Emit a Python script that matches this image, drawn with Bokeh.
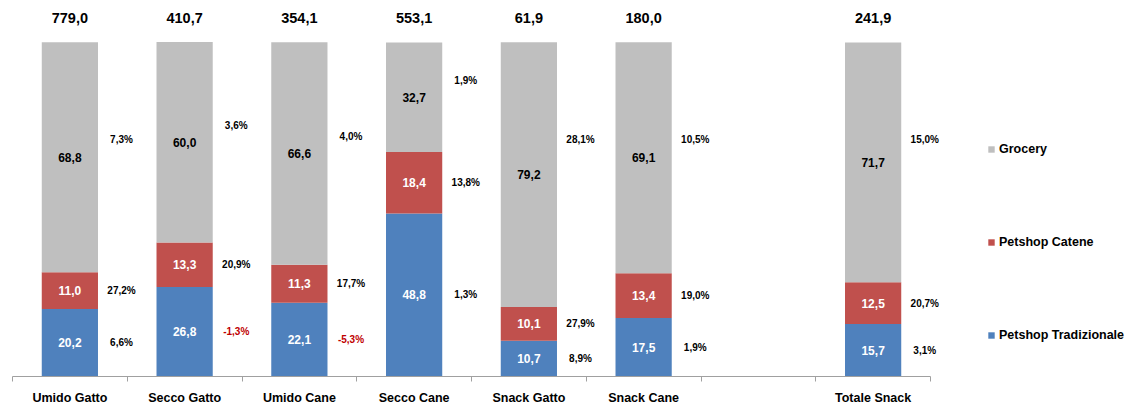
from bokeh.plotting import figure
from bokeh.models import ColumnDataSource, Range1d, FixedTicker, Legend, LegendItem
from bokeh.core.properties import value
from bokeh.embed import file_html
from bokeh.resources import INLINE

# ---- data ----
slots = ["Umido Gatto", "Secco Gatto", "Umido Cane", "Secco Cane", "Snack Gatto", "Snack Cane", "", "Totale Snack"]
categories = ["Umido Gatto", "Secco Gatto", "Umido Cane", "Secco Cane", "Snack Gatto", "Snack Cane", "Totale Snack"]
totals = [779.0, 410.7, 354.1, 553.1, 61.9, 180.0, 241.9]
tradizionale = [20.2, 26.8, 22.1, 48.8, 10.7, 17.5, 15.7]
catene = [11.0, 13.3, 11.3, 18.4, 10.1, 13.4, 12.5]
grocery = [68.8, 60.0, 66.6, 32.7, 79.2, 69.1, 71.7]
growth_trad = [6.6, -1.3, -5.3, 1.3, 8.9, 1.9, 3.1]
growth_cat = [27.2, 20.9, 17.7, 13.8, 27.9, 19.0, 20.7]
growth_groc = [7.3, 3.6, 4.0, 1.9, 28.1, 10.5, 15.0]
series = ["Petshop Tradizionale", "Petshop Catene", "Grocery"]

# ---- styles ----
C_BLUE, C_RED, C_GRAY = "#4f81bd", "#c0504d", "#bfbfbf"
FONT = value("Liberation Sans")

def fmt(v):
    return f"{v:.1f}".replace(".", ",")

x = [slots.index(c) + 0.5 for c in categories]
src = ColumnDataSource(dict(x=x, trad=tradizionale, cat=catene, groc=grocery))

# frame spans the whole width on the right; axis limited to the category slots
x_end = len(slots) * (1126 - 12) / 918.0

p = figure(width=1126, height=407, output_backend="svg", toolbar_location=None,
           x_range=Range1d(0, x_end), y_range=Range1d(0, 112.5),
           min_border_left=12, min_border_right=0, min_border_top=0, min_border_bottom=26)
p.outline_line_color = None
p.xgrid.visible = False
p.ygrid.visible = False
p.yaxis.visible = False
p.background_fill_color = "white"

rs = p.vbar_stack(["trad", "cat", "groc"], x="x", width=0.49, source=src,
                  color=[C_BLUE, C_RED, C_GRAY], line_color=None)

# value labels and growth labels
lx, ly, lt, lc = [], [], [], []
gx, gy, gt, gc = [], [], [], []
for i in range(len(categories)):
    b0 = 0
    vals = [tradizionale[i], catene[i], grocery[i]]
    grs = [growth_trad[i], growth_cat[i], growth_groc[i]]
    cols = ["white", "white", "black"]
    for j in range(3):
        mid = b0 + vals[j] / 2
        lx.append(x[i]); ly.append(mid); lt.append(fmt(vals[j])); lc.append(cols[j])
        gyv = mid if j < 2 else max(71, mid + 5)
        gx.append(x[i] + 0.45); gy.append(gyv); gt.append(fmt(grs[j]) + "%")
        gc.append("#c00000" if grs[j] < 0 else "black")
        b0 += vals[j]

p.text(x=lx, y=ly, text=lt, text_color=lc, text_font=FONT, text_font_style="bold",
       text_font_size="12px", text_align="center", text_baseline="middle")
p.text(x=gx, y=gy, text=gt, text_color=gc, text_font=FONT, text_font_style="bold",
       text_font_size="10px", text_align="center", text_baseline="middle")
p.text(x=x, y=[107.4] * len(x), text=[fmt(t) for t in totals], text_color="black",
       text_font=FONT, text_font_style="bold", text_font_size="14.5px",
       text_align="center", text_baseline="middle")

# axis
ax = p.xaxis[0]
ax.bounds = (0, len(slots))
ax.ticker = FixedTicker(ticks=[i + 0.5 for i in range(len(slots))],
                        minor_ticks=list(range(len(slots) + 1)))
ax.major_label_overrides = {i + 0.5: s for i, s in enumerate(slots)}
ax.major_tick_out = 0
ax.major_tick_in = 0
ax.minor_tick_out = 5
ax.minor_tick_in = 0
ax.minor_tick_line_color = "#a0a0a0"
ax.axis_line_color = "#a0a0a0"
ax.major_label_text_font = "Liberation Sans"
ax.major_label_text_font_style = "bold"
ax.major_label_text_font_size = "12.5px"
ax.major_label_text_color = "black"
ax.major_label_standoff = 9

legend = Legend(items=[LegendItem(label=series[2], renderers=[rs[2]]),
                       LegendItem(label=series[1], renderers=[rs[1]]),
                       LegendItem(label=series[0], renderers=[rs[0]])],
                location=(975, 31))
legend.border_line_alpha = 0
legend.background_fill_alpha = 0
legend.margin = 0
legend.padding = 0
legend.spacing = 73
legend.label_height = 20
legend.glyph_height = 8
legend.glyph_width = 8
legend.label_standoff = 4
legend.label_text_font = "Liberation Sans"
legend.label_text_font_style = "bold"
legend.label_text_font_size = "12.5px"
legend.label_text_color = "black"
p.add_layout(legend)

open("out.html", "w").write(file_html(p, INLINE))
